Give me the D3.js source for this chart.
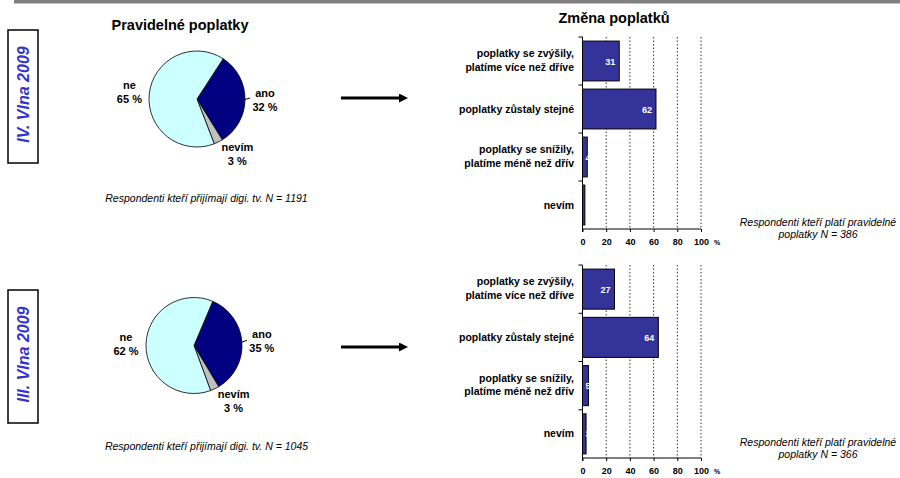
<!DOCTYPE html>
<html>
<head>
<meta charset="utf-8">
<script src="https://cdn.jsdelivr.net/npm/d3@7"></script>
<style>
html,body{margin:0;padding:0;background:#fff;}
svg{display:block;font-family:"Liberation Sans",Arial,sans-serif;}
</style>
</head>
<body>
<svg id="chart" width="900" height="478"></svg>
<script>
// ---------- data ----------
const waves = ["IV. Vlna 2009", "III. Vlna 2009"];
const pieTitle = "Pravidelné poplatky";
const barTitle = "Změna poplatků";
const pieCategories = ["ano", "nevím", "ne"];
const pieValuesIV = [32, 3, 65];
const pieValuesIII = [35, 3, 62];
const pieNotes = ["Respondenti kteří přijímají digi. tv. N = 1191", "Respondenti kteří přijímají digi. tv. N = 1045"];
const barCategories = [
  ["poplatky se zvýšily,", "platíme více než dříve"],
  ["poplatky zůstaly stejné"],
  ["poplatky se snížily,", "platíme méně než dřív"],
  ["nevím"]
];
const barValuesIV = [31, 62, 4, 2];
const barValuesIII = [27, 64, 5, 3];
const barNotes = [["Respondenti kteří platí pravidelné", "poplatky N = 386"], ["Respondenti kteří platí pravidelné", "poplatky N = 366"]];
const xTicks = [0, 20, 40, 60, 80, 100];

// ---------- layout ----------
const svg = d3.select("#chart");
const pieColors = d3.scaleOrdinal().domain(pieCategories).range(["#000080", "#c0c0c0", "#ccffff"]);
const panels = [
  {wave: waves[0], pie: pieValuesIV, bars: barValuesIV, pieNote: pieNotes[0], barNote: barNotes[0],
   box: [8, 30, 30, 133], pc: [197, 99], startDeg: 33, arrowY: 98, plotTop: 37, plotBottom: 229, pieNoteY: 202, barNoteY: 226},
  {wave: waves[1], pie: pieValuesIII, bars: barValuesIII, pieNote: pieNotes[1], barNote: barNotes[1],
   box: [8, 290, 30, 133], pc: [194, 345.5], startDeg: 23, arrowY: 347, plotTop: 265, plotBottom: 458, pieNoteY: 450, barNoteY: 446}
];

// top gray rule
svg.append("rect").attr("x", 14).attr("y", 0).attr("width", 886).attr("height", 3.5).attr("fill", "#808080");

// titles
svg.append("text").attr("x", 180).attr("y", 30).attr("text-anchor", "middle")
  .attr("font-size", 14.5).attr("font-weight", "bold").attr("fill", "#000").text(pieTitle);
svg.append("text").attr("x", 614).attr("y", 22.5).attr("text-anchor", "middle")
  .attr("font-size", 14.5).attr("font-weight", "bold").attr("fill", "#000").text(barTitle);

// arrow marker
svg.append("defs").append("marker").attr("id", "ah").attr("viewBox", "0 0 10 10")
  .attr("refX", 0).attr("refY", 5).attr("markerWidth", 3).attr("markerHeight", 3)
  .attr("orient", "auto").attr("markerUnits", "strokeWidth")
  .append("path").attr("d", "M0,0 L10,5 L0,10 Z").attr("fill", "#000");

const R = 48;
const rad = Math.PI / 180;
const x = d3.scaleLinear().domain([0, 100]).range([582.5, 701]);

panels.forEach(p => {
  // wave box
  svg.append("rect").attr("x", p.box[0]).attr("y", p.box[1]).attr("width", p.box[2]).attr("height", p.box[3])
    .attr("fill", "#fff").attr("stroke", "#000").attr("stroke-width", 1.5);
  svg.append("text")
    .attr("transform", `translate(${p.box[0] + p.box[2] / 2 + 6},${p.box[1] + p.box[3] / 2 - 2}) rotate(-90)`)
    .attr("text-anchor", "middle").attr("font-size", 16).attr("font-weight", "bold").attr("font-style", "italic")
    .attr("fill", "#3333cc").text(p.wave);

  // pie
  const g = svg.append("g").attr("transform", `translate(${p.pc[0]},${p.pc[1]})`);
  const pie = d3.pie().sort(null).startAngle(p.startDeg * rad).endAngle(p.startDeg * rad + 2 * Math.PI);
  const arcs = pie(p.pie.map((v, i) => ({cat: pieCategories[i], v})).map(d => d.v));
  const arc = d3.arc().innerRadius(0).outerRadius(R);
  g.selectAll("path.slice").data(arcs).join("path").attr("class", "slice")
    .attr("d", arc).attr("fill", (d, i) => pieColors(pieCategories[i]))
    .attr("stroke", "#000").attr("stroke-width", 0.8);
  arcs.forEach((a, i) => {
    let mid = (a.startAngle + a.endAngle) / 2;
    if (a.data < 5) mid -= 10 * rad;
    const lr = 68;
    const lx = Math.sin(mid) * lr, ly = -Math.cos(mid) * lr;
    const t = g.append("text").attr("text-anchor", "middle").attr("font-size", 11).attr("font-weight", "bold").attr("fill", "#000");
    t.append("tspan").attr("x", lx).attr("y", ly - 3).text(pieCategories[i]);
    t.append("tspan").attr("x", lx).attr("y", ly + 11.5).text(a.data + " %");
    if (pieCategories[i] === "ano") {
      const m = (a.startAngle + a.endAngle) / 2;
      g.append("line").attr("x1", Math.sin(m) * R).attr("y1", -Math.cos(m) * R)
        .attr("x2", Math.sin(m) * (R + 5)).attr("y2", -Math.cos(m) * (R + 5) - 1.5)
        .attr("stroke", "#000").attr("stroke-width", 1);
    }
  });
  svg.append("text").attr("x", 206.5).attr("y", p.pieNoteY).attr("text-anchor", "middle")
    .attr("font-size", 10.5).attr("font-style", "italic").attr("fill", "#000").text(p.pieNote);

  // arrow
  svg.append("line").attr("x1", 341).attr("x2", 399).attr("y1", p.arrowY).attr("y2", p.arrowY)
    .attr("stroke", "#000").attr("stroke-width", 3).attr("marker-end", "url(#ah)");

  // bar chart
  const y = d3.scaleBand().domain(d3.range(barCategories.length))
    .range([p.plotTop, p.plotBottom]).paddingInner(0.17).paddingOuter(0.085);
  const step = y.step();
  const bg = svg.append("g");
  // gridlines
  bg.selectAll("line.grid").data(xTicks.slice(1)).join("line").attr("class", "grid")
    .attr("x1", d => x(d)).attr("x2", d => x(d)).attr("y1", p.plotTop).attr("y2", p.plotBottom)
    .attr("stroke", "#000").attr("stroke-width", 0.8).attr("stroke-dasharray", "1.5,2");
  // bars
  bg.selectAll("rect.bar").data(p.bars).join("rect").attr("class", "bar")
    .attr("x", x(0)).attr("y", (d, i) => y(i)).attr("width", d => x(d) - x(0)).attr("height", y.bandwidth())
    .attr("fill", "#333399").attr("stroke", "#000").attr("stroke-width", 1);
  // value labels
  bg.selectAll("text.val").data(p.bars).join("text").attr("class", "val")
    .attr("x", d => Math.max(x(d) - 4, x(0) + 3 + String(d).length * 5))
    .attr("y", (d, i) => y(i) + y.bandwidth() / 2 + 3.5)
    .attr("text-anchor", "end").attr("font-size", 9).attr("font-weight", "bold").attr("fill", "#fff")
    .text(d => d);
  // y axis line + ticks at category boundaries
  bg.append("line").attr("x1", x(0)).attr("x2", x(0)).attr("y1", p.plotTop).attr("y2", p.plotBottom + 3)
    .attr("stroke", "#000").attr("stroke-width", 1);
  bg.selectAll("line.ytick").data(d3.range(barCategories.length)).join("line").attr("class", "ytick")
    .attr("x1", x(0) - 4).attr("x2", x(0)).attr("y1", i => p.plotTop + i * step).attr("y2", i => p.plotTop + i * step)
    .attr("stroke", "#000").attr("stroke-width", 1);
  // x axis
  const xa = bg.append("g").attr("transform", `translate(0,${p.plotBottom})`)
    .call(d3.axisBottom(x).tickValues(xTicks).tickSize(3).tickPadding(5).tickFormat(d3.format("d")));
  xa.select(".domain").attr("stroke", "#000").attr("d", `M${x(0)},0H${x(100)}`);
  xa.selectAll(".tick line").attr("stroke", "#000");
  xa.selectAll(".tick text").attr("font-size", 9).attr("font-weight", "bold").attr("fill", "#000")
    .attr("font-family", "Liberation Sans, Arial, sans-serif").attr("dy", "0.9em");
  bg.append("text").attr("x", 717).attr("y", p.plotBottom + 16).attr("text-anchor", "middle")
    .attr("font-size", 7).attr("font-weight", "bold").attr("fill", "#000").text("%");
  // category labels
  barCategories.forEach((lines, i) => {
    const c = y(i) + y.bandwidth() / 2;
    const t = bg.append("text").attr("text-anchor", "end").attr("font-size", 10.5).attr("font-weight", "bold").attr("fill", "#000");
    if (lines.length === 1) {
      t.append("tspan").attr("x", 574).attr("y", c + 3.5).text(lines[0]);
    } else {
      t.append("tspan").attr("x", 574).attr("y", c - 4).text(lines[0]);
      t.append("tspan").attr("x", 574).attr("y", c + 9.8).text(lines[1]);
    }
  });
  // note
  const nt = svg.append("text").attr("text-anchor", "middle").attr("font-size", 10.5).attr("font-style", "italic").attr("fill", "#000");
  nt.append("tspan").attr("x", 818).attr("y", p.barNoteY).text(p.barNote[0]);
  nt.append("tspan").attr("x", 818).attr("y", p.barNoteY + 11.5).text(p.barNote[1]);
});
</script>
</body>
</html>
